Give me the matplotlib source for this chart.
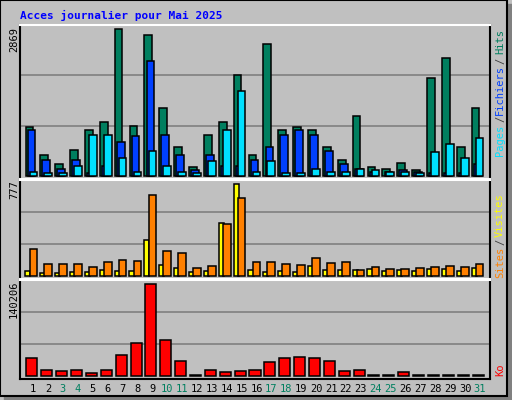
import numpy as np
import matplotlib
matplotlib.use('Agg')
import matplotlib.pyplot as plt
from matplotlib.patches import Rectangle

days = list(range(1, 32))
weekend = [3, 4, 10, 11, 17, 18, 24, 25, 31]

# fractions of max, converted to counts
hits_f = [0.33, 0.14, 0.08, 0.18, 0.31, 0.37, 1.0, 0.34, 0.96, 0.46, 0.20, 0.06, 0.28, 0.37, 0.69, 0.14,
          0.90, 0.31, 0.33, 0.31, 0.20, 0.11, 0.41, 0.06, 0.05, 0.09, 0.04, 0.67, 0.80, 0.20, 0.46]
files_f = [0.31, 0.11, 0.05, 0.11, 0.02, 0.07, 0.23, 0.27, 0.78, 0.28, 0.14, 0.04, 0.14, 0.07, 0.07, 0.11,
           0.20, 0.28, 0.31, 0.28, 0.17, 0.08, 0.05, 0.03, 0.03, 0.04, 0.03, 0.02, 0.02, 0.02, 0.08]
pages_f = [0.03, 0.02, 0.02, 0.07, 0.28, 0.28, 0.12, 0.03, 0.17, 0.07, 0.03, 0.02, 0.10, 0.31, 0.58, 0.03,
           0.10, 0.02, 0.02, 0.05, 0.03, 0.03, 0.05, 0.04, 0.03, 0.03, 0.02, 0.16, 0.22, 0.12, 0.26]
visits_f = [0.05, 0.03, 0.03, 0.04, 0.04, 0.07, 0.05, 0.05, 0.39, 0.12, 0.09, 0.04, 0.05, 0.58, 1.0, 0.07,
            0.04, 0.05, 0.04, 0.11, 0.07, 0.07, 0.07, 0.08, 0.05, 0.07, 0.05, 0.08, 0.08, 0.05, 0.09]
sites_f = [0.29, 0.13, 0.13, 0.13, 0.10, 0.15, 0.17, 0.16, 0.88, 0.27, 0.25, 0.09, 0.11, 0.57, 0.85, 0.15,
           0.15, 0.13, 0.12, 0.19, 0.14, 0.15, 0.07, 0.10, 0.08, 0.08, 0.09, 0.10, 0.11, 0.10, 0.13]
ko_f = [0.20, 0.06, 0.05, 0.06, 0.03, 0.06, 0.23, 0.36, 1.0, 0.39, 0.16, 0.01, 0.06, 0.04, 0.05, 0.07,
        0.15, 0.20, 0.21, 0.20, 0.16, 0.05, 0.06, 0.01, 0.01, 0.04, 0.01, 0.01, 0.01, 0.01, 0.01]

max_hits = 2869
max_visits = 777
max_ko = 140206
hits = [round(v * max_hits) for v in hits_f]
files = [round(v * max_hits) for v in files_f]
pages = [round(v * max_hits) for v in pages_f]
visits = [round(v * max_visits) for v in visits_f]
sites = [round(v * max_visits) for v in sites_f]
ko = [round(v * max_ko) for v in ko_f]

BG = '#c0c0c0'
W, H = 512, 400
fig = plt.figure(figsize=(W / 100, H / 100), dpi=100)
fig.patch.set_facecolor(BG)

# outer frame with shadow
fig.add_artist(Rectangle((4 / W, 0), 508 / W, 396 / H, transform=fig.transFigure, color='#808080', zorder=0))
fig.add_artist(Rectangle((0, 4 / H), 507 / W, 396 / H, transform=fig.transFigure, facecolor=BG,
                         edgecolor='black', lw=1.5, zorder=0))

mono = 'DejaVu Sans Mono'
fig.text(20 / W, 1 - 15 / H, 'Acces journalier pour Mai 2025', color='#0000ff', fontsize=8,
         family=mono, fontweight='bold', va='center')

x = np.array(days)


def panel(top, base, bottom):
    ax = fig.add_axes([20 / W, 1 - bottom / H, 470 / W, (bottom - top) / H])
    ax.set_facecolor(BG)
    ax.set_xlim(0.1, 31.7)
    ax.set_xticks([])
    ax.set_yticks([])
    for s in ax.spines.values():
        s.set_color('black')
        s.set_linewidth(1.5)
    ax.spines['bottom'].set_color('white')
    ax.spines['top'].set_color('white')
    return ax


def set_scale(ax, vmax, top, base, bottom):
    # bars sit slightly above axis bottom, max reaches near top
    px = vmax / (base - top - 4)
    ax.set_ylim(-(bottom - base) * px, (base - top) * px)
    ymax = (base - top) * px
    for f in (1 / 3, 2 / 3):
        ax.axhline(ymax * f, color='#808080', lw=1.2, zorder=0)


kw = dict(edgecolor='black', linewidth=1.1)

ax1 = panel(25, 176, 179)
set_scale(ax1, max_hits, 25, 176, 179)
ax1.bar(x - 0.27, hits, width=0.52, color='#007f5f', **kw)
ax1.bar(x - 0.13, files, width=0.52, color='#0040ff', **kw)
ax1.bar(x, pages, width=0.52, color='#00e0ff', **kw)

ax2 = panel(180, 276, 279)
set_scale(ax2, max_visits, 180, 276, 279)
ax2.bar(x - 0.37, visits, width=0.34, color='#ffff00', **kw)
ax2.bar(x, sites, width=0.52, color='#ff8000', **kw)

ax3 = panel(280, 376, 379)
set_scale(ax3, max_ko, 280, 376, 379)
ax3.bar(x - 0.1, ko, width=0.74, color='#ff0000', **kw)
ax3.spines['bottom'].set_color('black')

for d in days:
    fig.text((33 + 14.9 * (d - 1)) / W, 1 - 389 / H, str(d), ha='center', va='center', fontsize=7.5,
             family=mono, color='#007f5f' if d in weekend else 'black')

# left max labels
for label, y0 in [('2869', 27), ('777', 180), ('140206', 280)]:
    fig.text(14 / W, 1 - y0 / H, label, rotation=90, ha='center', va='top', fontsize=7.5, family=mono)

# right legends
right = [('Hits', 41, '#007f5f'), ('/', 61, '#404040'), ('Fichiers', 90, '#0040ff'), ('/', 119, '#404040'),
         ('Pages', 140, '#00e0ff'), ('Visites', 215, '#ffff00'), ('/', 242, '#404040'),
         ('Sites', 262, '#ff8000'), ('Ko', 370, '#ff0000')]
for label, yc, col in right:
    fig.text(500 / W, 1 - yc / H, label, rotation=90, ha='center', va='center', fontsize=7.5,
             family=mono, color=col)

fig.savefig('out.png', dpi=100, facecolor=BG)
